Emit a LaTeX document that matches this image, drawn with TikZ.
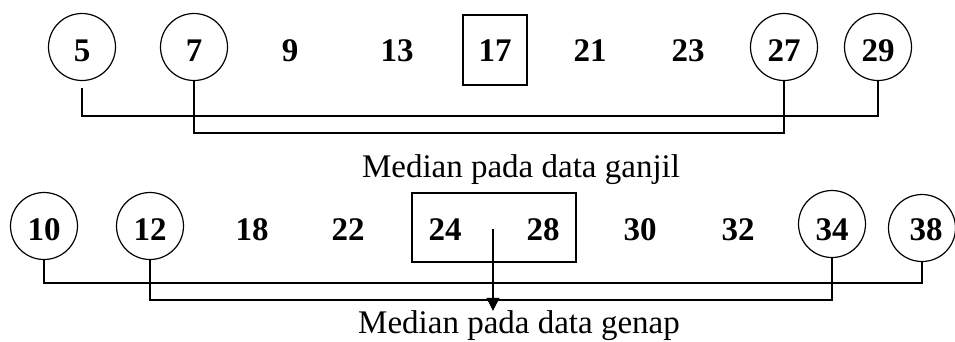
\documentclass[tikz,border=0pt]{standalone}
\usepackage{fontspec}
\setmainfont{Liberation Serif}
\usetikzlibrary{arrows.meta,calc}
\begin{document}
\begin{tikzpicture}[x=1pt,y=-1pt,
  num/.style={font=\fontsize{33}{33}\selectfont\bfseries, inner sep=0pt},
  ring/.style={draw, circle, minimum size=67pt, inner sep=0pt, line width=1.2pt},
  mbox/.style={draw, line width=1.2pt, inner sep=0pt},
  captext/.style={font=\fontsize{33}{33}\selectfont, inner sep=0pt},
  conn/.style={line width=1.2pt}]
\useasboundingbox (0,0) rectangle (955,341);
% top row
\node[ring] (c5) at (82,47) {};
\node[num] (t5) at (82,51) {5};
\node[ring] (c7) at (194,47) {};
\node[num] (t7) at (194,51) {7};
\node[num] (t9) at (290,51) {9};
\node[num] (t13) at (397,51) {13};
\node[mbox, minimum width=64pt, minimum height=70pt] (b1) at (495,50) {};
\node[num] (t17) at (495,51) {17};
\node[num] (t21) at (590,51) {21};
\node[num] (t23) at (688,51) {23};
\node[ring] (c27) at (784,47) {};
\node[num] (t27) at (784,51) {27};
\node[ring] (c29) at (878,47) {};
\node[num] (t29) at (878,51) {29};
\coordinate (h1) at (0,116);
\coordinate (h2) at (0,133);
\draw[conn] ([yshift=-7pt]c5.south) |- (h1 -| c29.south) -- (c29.south);
\draw[conn] (c7.south) |- (h2 -| c27.south) -- (c27.south);
\node[captext] (cap1) at (521,170) {Median pada data ganjil};
% bottom row
\node[ring] (c10) at (44,226) {};
\node[num] (t10) at (44,230) {10};
\node[ring] (c12) at (150,226) {};
\node[num] (t12) at (150,230) {12};
\node[num] (t18) at (252,230) {18};
\node[num] (t22) at (348,230) {22};
\node[mbox, minimum width=164pt, minimum height=69pt] (b2) at (494,227.5) {};
\node[num] (t24) at (445,230) {24};
\node[num] (t28) at (543,230) {28};
\node[num] (t30) at (640,230) {30};
\node[num] (t32) at (738,230) {32};
\node[ring] (c34) at (832,224) {};
\node[num] (t34) at (832,230) {34};
\node[ring] (c38) at (922,228) {};
\node[num] (t38) at (926,230) {38};
\coordinate (h3) at (0,283);
\coordinate (h4) at (0,300);
\draw[conn] (c10.south) |- (h3 -| c38.south) -- (c38.south);
\draw[conn] (c12.south) |- (h4 -| c34.south) -- (c34.south);
\node[captext] (cap2) at (519,326) {Median pada data genap};
\coordinate (a0) at (493,229);
\draw[conn, -{Triangle[length=13pt,width=13pt]}] (a0) -- (a0 |- cap2.north);
\end{tikzpicture}
\end{document}
